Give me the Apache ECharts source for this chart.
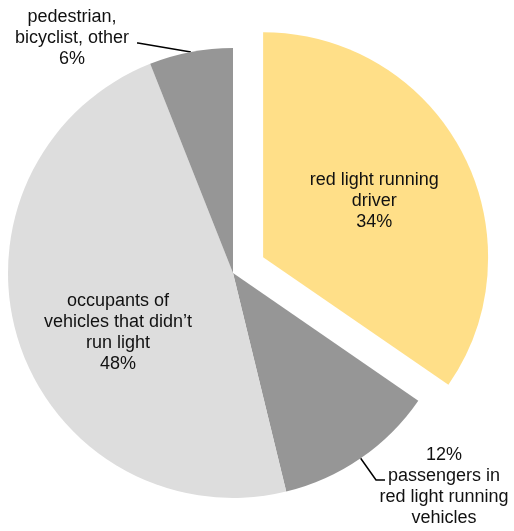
<!DOCTYPE html>
<html lang="en" style="height: 100%">
<head>
    <meta charset="utf-8">
    <title>Red light running crash deaths</title>
    <script src="https://cdn.jsdelivr.net/npm/echarts@6/dist/echarts.min.js"></script>
</head>
<body style="height: 100%; margin: 0; background: #fff">
<div id="container" style="width: 514px; height: 531px"></div>
<script type="text/javascript">
    // slices, clockwise from 12 o'clock
    const categories = [
        'red light running\ndriver',
        'passengers in\nred light running\nvehicles',
        'occupants of\nvehicles that didn\u2019t\nrun light',
        'pedestrian,\nbicyclist, other'
    ];
    const shares = [34.6, 11.6, 47.8, 6.0];
    // percentages as printed on the labels
    const shareLabels = ['34%', '12%', '48%', '6%'];
    const sliceColors = ['#FFDF88', '#969696', '#DDDDDD', '#969696'];

    var dom = document.getElementById('container');
    var myChart = echarts.init(dom, null, {renderer: 'canvas'});

    const pieData = categories.map(function (name, i) {
        var item = {
            name: name,
            value: shares[i],
            itemStyle: {color: sliceColors[i]}
        };
        if (i === 0) item.selected = true;
        if (i === 1 || i === 3) {
            item.label = {position: 'outside'};
        }
        return item;
    });

    var option = {
        animation: false,
        series: [
            {
                type: 'pie',
                center: [233, 273],
                radius: 225,
                startAngle: 90,
                clockwise: true,
                selectedMode: 'single',
                selectedOffset: 34,
                avoidLabelOverlap: false,
                emphasis: {disabled: true},
                data: pieData,
                label: {
                    show: true,
                    position: 'inside',
                    fontFamily: 'Liberation Sans, Arial, sans-serif',
                    fontSize: 18,
                    lineHeight: 21,
                    color: '#111',
                    align: 'center',
                    overflow: 'none',
                    formatter: function (p) {
                        // the passengers label puts the share on top
                        if (p.dataIndex === 1) return shareLabels[1] + '\n' + p.name;
                        return p.name + '\n' + shareLabels[p.dataIndex];
                    }
                },
                labelLine: {
                    show: true,
                    length: 10,
                    length2: 10,
                    lineStyle: {color: '#000', width: 1.5}
                },
                labelLayout: function (p) {
                    if (p.dataIndex === 0) return {dx: 9, dy: -2};
                    if (p.dataIndex === 2) return {dx: -5, dy: 25};
                    var edge = p.labelLinePoints[0];
                    if (p.dataIndex === 3) {
                        return {
                            x: 72, y: 38, align: 'center', verticalAlign: 'middle',
                            labelLinePoints: [edge, [138, 43], [137, 43]]
                        };
                    }
                    return {
                        x: 444, y: 487, align: 'center', verticalAlign: 'middle',
                        labelLinePoints: [edge, [376, 480], [385, 480]]
                    };
                }
            }
        ]
    };

    myChart.setOption(option);
    window.addEventListener('resize', myChart.resize);
</script>
</body>
</html>
